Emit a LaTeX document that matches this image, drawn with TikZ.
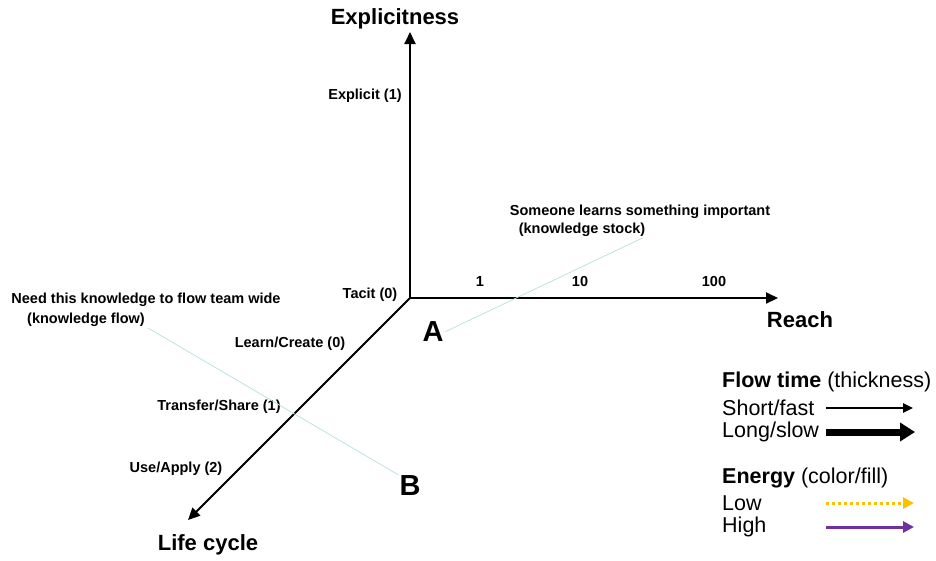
\documentclass[tikz,border=0pt]{standalone}
\usepackage{fontspec}
\setmainfont{Liberation Sans}
\usetikzlibrary{arrows.meta}

\definecolor{leadline}{RGB}{190,226,226}
\definecolor{lowenergy}{RGB}{255,192,0}
\definecolor{highenergy}{RGB}{112,48,160}

\begin{document}
\begin{tikzpicture}[x=1pt, y=-1pt,
        font=\bfseries\fontsize{14.5}{16}\selectfont,
        >={Triangle[length=12pt,width=11pt]}, % Voreinstellung fuer Pfeilspitzen
        axis/.style={draw, line width=2pt, ->},
        ticklabel/.style={inner sep=1pt},
        axislabel/.style={font=\bfseries\fontsize{22}{24}\selectfont},
        pointlabel/.style={font=\bfseries\fontsize{29}{30}\selectfont, inner sep=1pt},
        leadline/.style={draw=leadline, line width=0.8pt},
        legend/.style={font=\fontsize{21.5}{24}\selectfont, anchor=west, inner sep=0pt}
        ]
            \useasboundingbox (0,0) rectangle (936,560);

            % Achsen
            \coordinate (O) at (410,298);
            \coordinate (Etip) at (410,32);
            \coordinate (Rtip) at (778,298);
            \coordinate (Ltip) at (188,520);

            \draw [axis] (O) -- (Etip);
            \draw [axis] (O) -- (Rtip);
            \draw [axis] (O) -- (Ltip);

            \node [axislabel] (expl)  at (395,19)  {Explicitness};
            \node [axislabel] (reach) at (800,320) {Reach};
            \node [axislabel] (life)  at (208,545) {Life cycle};

            % Skalen
            \node [ticklabel] (explicit) at (365,96)  {Explicit (1)};
            \node [ticklabel] (tacit)    at (370,295) {Tacit (0)};
            \node [ticklabel] (r1)       at (480,282) {1};
            \node [ticklabel] (r10)      at (580,282) {10};
            \node [ticklabel] (r100)     at (714,282) {100};
            \node [ticklabel] (learn)    at (290,344) {Learn/Create (0)};
            \node [ticklabel] (transfer) at (219,407) {Transfer/Share (1)};
            \node [ticklabel] (use)      at (176,469) {Use/Apply (2)};

            % Punkte
            \node [pointlabel] (A) at (433,332) {A};
            \node [pointlabel] (B) at (410,486) {B};

            % Anmerkungen
            \node [ticklabel] (stock1) at (640,212) {Someone learns something important};
            \node [ticklabel] (stock2) at (582,230) {(knowledge stock)};
            \node [ticklabel] (flow1)  at (146,300) {Need this knowledge to flow team wide};
            \node [ticklabel] (flow2)  at (86,320)  {(knowledge flow)};

            \draw [leadline] ([xshift=-4pt]stock2.south east) -- (A.east);
            \draw [leadline] ([xshift=2pt]flow2.south east) -- (B.north west);

            % Legende
            \node [legend] (flowtime) at (722,382) {\textbf{Flow time} (thickness)};
            \node [legend] (short)    at (722,408) {Short/fast};
            \node [legend] (long)     at (722,432) {Long/slow};
            \node [legend] (energy)   at (722,478) {\textbf{Energy} (color/fill)};
            \node [legend] (low)      at (722,503) {Low};
            \node [legend] (high)     at (722,527) {High};

            \coordinate (short0) at (826,408);  \coordinate (short1) at (913,408);
            \coordinate (long0)  at (826,432);  \coordinate (long1)  at (915,432);
            \coordinate (low0)   at (826,503);  \coordinate (low1)   at (914,503);
            \coordinate (high0)  at (826,527);  \coordinate (high1)  at (914,527);

            \draw [line width=2.4pt, -{Triangle[length=10pt,width=9pt]}] (short0) -- (short1);
            \draw [line width=7pt, -{Triangle[length=15pt,width=18pt]}]  (long0) -- (long1);
            \draw [lowenergy, line width=3pt, dash pattern=on 3pt off 3pt,
                   -{Triangle[length=11pt,width=11pt]}]                    (low0) -- (low1);
            \draw [highenergy, line width=3pt, -{Triangle[length=11pt,width=11pt]}] (high0) -- (high1);
        \end{tikzpicture}
\end{document}
